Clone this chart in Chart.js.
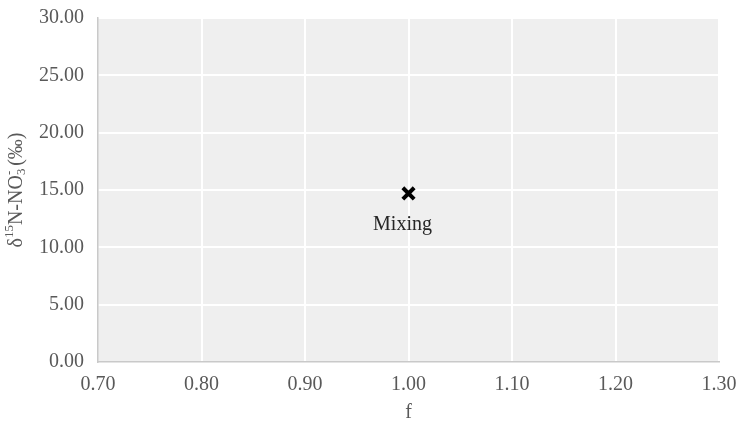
<!DOCTYPE html>
<html>
<head>
<meta charset="utf-8">
<script src="https://cdn.jsdelivr.net/npm/chart.js@4.4.1/dist/chart.umd.min.js"></script>
<style>
  html, body { margin: 0; padding: 0; background: #fff; }
  #wrap { width: 740px; height: 426px; }
</style>
</head>
<body>
<div id="wrap"><canvas id="mainChart" width="740" height="426"></canvas></div>
<script>
// data
const pointLabels = ['Mixing'];
const fValues = [1.00];
const d15NValues = [14.7];

const xTicks = [0.70, 0.80, 0.90, 1.00, 1.10, 1.20, 1.30];
const yTicks = [0, 5, 10, 15, 20, 25, 30];

const serif = "'Liberation Serif', 'Times New Roman', serif";
const tickColor = '#595959';

const ctx = document.getElementById('mainChart').getContext('2d');

const chart = new Chart(ctx, {
    type: 'scatter',
    data: {
        datasets: [{
            data: fValues.map((f, i) => ({ x: f, y: d15NValues[i] })),
            pointStyle: 'crossRot',
            pointRadius: 8,
            pointHoverRadius: 8,
            borderColor: '#000',
            borderWidth: 4,
            backgroundColor: '#000'
        }]
    },
    options: {
        responsive: false,
        animation: false,
        layout: { padding: { top: 18, right: 21, left: 0, bottom: 0 } },
        plugins: {
            legend: { display: false },
            tooltip: { enabled: false }
        },
        scales: {
            x: {
                type: 'linear',
                min: 0.7,
                max: 1.3,
                afterBuildTicks: (axis) => { axis.ticks = xTicks.map(v => ({ value: v })); },
                afterFit: (axis) => {
                    axis.height = 64;
                    axis.paddingLeft = 0;
                    axis.paddingRight = 0;
                },
                ticks: {
                    padding: 11,
                    color: tickColor,
                    font: { family: serif, size: 20 },
                    callback: (v) => v.toFixed(2)
                },
                grid: {
                    color: (c) => c.index === 0 ? 'rgba(0,0,0,0)' : '#ffffff',
                    lineWidth: 2,
                    drawTicks: false
                },
                border: { color: '#c9c9c9', width: 1.5 },
                title: {
                    display: true,
                    text: 'f',
                    color: tickColor,
                    font: { family: serif, size: 20 },
                    padding: { top: 4, bottom: 1 }
                }
            },
            y: {
                min: 0,
                max: 30,
                afterBuildTicks: (axis) => { axis.ticks = yTicks.map(v => ({ value: v })); },
                afterFit: (axis) => {
                    axis.width = 98;
                    axis.paddingTop = 0;
                    axis.paddingBottom = 0;
                },
                ticks: {
                    padding: 14,
                    color: tickColor,
                    font: { family: serif, size: 20 },
                    callback: (v) => v.toFixed(2)
                },
                grid: {
                    color: (c) => c.index === 0 ? 'rgba(0,0,0,0)' : '#ffffff',
                    lineWidth: 2,
                    drawTicks: false
                },
                border: { color: '#c9c9c9', width: 1.5 }
            }
        }
    },
    plugins: [{
        id: 'plotBackground',
        beforeDraw: (chart) => {
            const a = chart.chartArea;
            const c = chart.ctx;
            c.save();
            c.fillStyle = '#efefef';
            c.fillRect(a.left, a.top, a.right - a.left, a.bottom - a.top);
            c.restore();
        }
    }, {
        id: 'pointNames',
        afterDatasetsDraw: (chart) => {
            const c = chart.ctx;
            const meta = chart.getDatasetMeta(0);
            c.save();
            c.font = '20px ' + serif;
            c.fillStyle = '#262626';
            c.textAlign = 'center';
            c.textBaseline = 'middle';
            meta.data.forEach((pt, i) => {
                c.fillText(pointLabels[i], pt.x - 6, pt.y + 31);
            });
            c.restore();
        }
    }, {
        id: 'yTitle',
        afterDraw: (chart) => {
            // δ15N-NO3- (‰) with raised / lowered parts
            const c = chart.ctx;
            const a = chart.chartArea;
            const parts = [
                { t: 'δ', size: 20, dy: 0 },
                { t: '15', size: 13, dy: -7 },
                { t: 'N-NO', size: 20, dy: 0 },
                { t: '3', size: 13, dy: 5, stack: true },
                { t: '-', size: 13, dy: -7 },
                { t: ' (‰)', size: 20, dy: 0 }
            ];
            c.save();
            let total = 0;
            parts.forEach(p => {
                c.font = p.size + 'px ' + serif;
                p.w = c.measureText(p.t).width;
                if (!p.stack) total += p.w;
            });
            c.translate(17, (a.top + a.bottom) / 2);
            c.rotate(-Math.PI / 2);
            c.fillStyle = tickColor;
            c.textBaseline = 'middle';
            c.textAlign = 'left';
            let x = -total / 2;
            parts.forEach(p => {
                c.font = p.size + 'px ' + serif;
                c.fillText(p.t, x, p.dy);
                if (!p.stack) x += p.w;
            });
            c.restore();
        }
    }]
});
</script>
</body>
</html>
